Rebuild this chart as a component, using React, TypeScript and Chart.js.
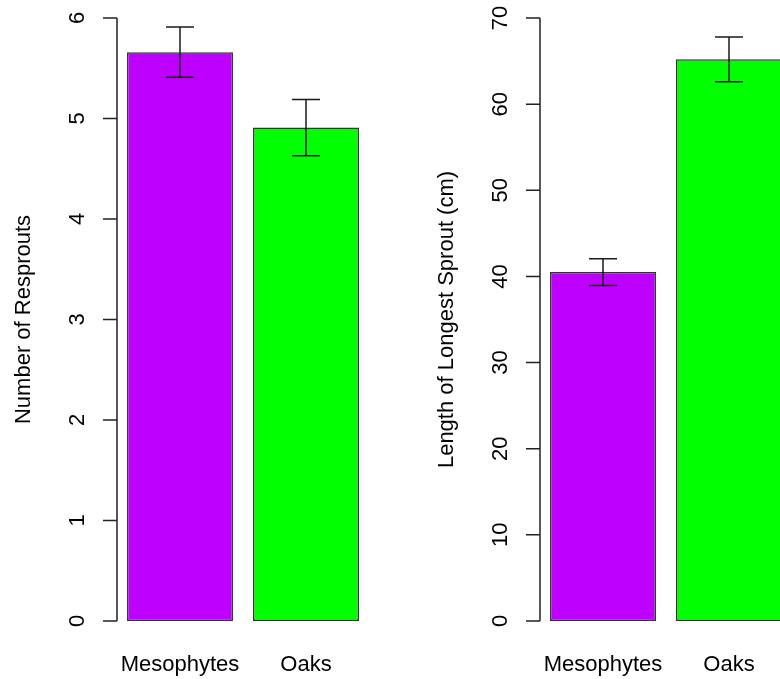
import React, { useEffect, useRef } from "react";
import { Chart, registerables } from "chart.js";

Chart.register(...registerables);

// Groups and fills shared by both panels
const groups = ["Mesophytes", "Oaks"];
const barColors = ["#BD00FF", "#00FF00"];

// Panel 1: number of resprouts (mean ± SE)
const resproutMeans = [5.66, 4.91];
const resproutSE = [0.25, 0.28];
const resproutTicks = [0, 1, 2, 3, 4, 5, 6];

// Panel 2: length of longest sprout in cm (mean ± SE)
const sproutMeans = [40.5, 65.2];
const sproutSE = [1.55, 2.6];
const sproutTicks = [0, 10, 20, 30, 40, 50, 60, 70];

const FONT = '"Liberation Sans", Arial, Helvetica, sans-serif';
const FONT_SIZE = 22;
const PANEL_W = 423;
const PANEL_H = 679;

type PanelProps = {
  left: number;
  title: string;
  means: number[];
  se: number[];
  ticks: number[];
};

function Panel({ left, title, means, se, ticks }: PanelProps) {
  const ref = useRef<HTMLCanvasElement | null>(null);

  useEffect(() => {
    const canvas = ref.current;
    if (!canvas) return;

    // Base-graphics style axis, error bars and labels, placed with the chart's scales
    const basePlot = {
      id: "basePlot",
      afterDatasetsDraw(chart: any) {
        const { ctx, chartArea, scales } = chart;
        const xs = scales.x;
        const ys = scales.y;
        const axisX = chartArea.left;
        ctx.save();

        // error bars
        ctx.strokeStyle = "#1a1a1a";
        ctx.lineWidth = 1.5;
        const meta = chart.getDatasetMeta(0);
        meta.data.forEach((bar: any, i: number) => {
          const cx = bar.x;
          const top = ys.getPixelForValue(means[i] + se[i]);
          const bot = ys.getPixelForValue(means[i] - se[i]);
          ctx.beginPath();
          ctx.moveTo(cx, top);
          ctx.lineTo(cx, bot);
          ctx.moveTo(cx - 14, top);
          ctx.lineTo(cx + 14, top);
          ctx.moveTo(cx - 14, bot);
          ctx.lineTo(cx + 14, bot);
          ctx.stroke();
        });

        // y axis line and outward ticks
        ctx.strokeStyle = "#222";
        ctx.lineWidth = 1.5;
        const yFirst = ys.getPixelForValue(ticks[0]);
        const yLast = ys.getPixelForValue(ticks[ticks.length - 1]);
        ctx.beginPath();
        ctx.moveTo(axisX, yFirst);
        ctx.lineTo(axisX, yLast);
        ticks.forEach((t) => {
          const py = ys.getPixelForValue(t);
          ctx.moveTo(axisX - 14, py);
          ctx.lineTo(axisX, py);
        });
        ctx.stroke();

        // tick labels, parallel to the axis
        ctx.fillStyle = "#000";
        ctx.font = `${FONT_SIZE}px ${FONT}`;
        ticks.forEach((t) => {
          const py = ys.getPixelForValue(t);
          ctx.save();
          ctx.translate(axisX - 33, py);
          ctx.rotate(-Math.PI / 2);
          ctx.textAlign = "center";
          ctx.textBaseline = "alphabetic";
          ctx.fillText(String(t), 0, 0);
          ctx.restore();
        });

        // axis title
        ctx.save();
        ctx.translate(axisX - 87, (chartArea.top + chartArea.bottom) / 2);
        ctx.rotate(-Math.PI / 2);
        ctx.textAlign = "center";
        ctx.textBaseline = "alphabetic";
        ctx.fillText(title, 0, 0);
        ctx.restore();

        // group names under the bars
        ctx.textAlign = "center";
        ctx.textBaseline = "alphabetic";
        groups.forEach((g, i) => {
          ctx.fillText(g, xs.getPixelForValue(i), 671);
        });

        ctx.restore();
      },
    };

    const chart = new Chart(canvas, {
      type: "bar",
      data: {
        labels: groups,
        datasets: [
          {
            data: means,
            backgroundColor: barColors,
            borderColor: "#333",
            borderWidth: 1.5,
            borderSkipped: false,
            barPercentage: 0.841,
            categoryPercentage: 1,
          },
        ],
      },
      options: {
        responsive: false,
        animation: false,
        devicePixelRatio: 1,
        layout: { padding: { left: 117, right: 54, top: 18, bottom: 58 } },
        plugins: {
          legend: { display: false },
          tooltip: { enabled: false },
        },
        scales: {
          x: { display: false },
          y: {
            display: false,
            min: ticks[0],
            max: ticks[ticks.length - 1],
          },
        },
      },
      plugins: [basePlot],
    });

    return () => chart.destroy();
  }, [title, means, se, ticks]);

  return (
    <canvas
      ref={ref}
      width={PANEL_W}
      height={PANEL_H}
      style={{
        position: "absolute",
        left,
        top: 0,
        width: PANEL_W,
        height: PANEL_H,
        display: "block",
      }}
    />
  );
}

export default function App() {
  return (
    <div
      style={{
        position: "fixed",
        left: 0,
        top: 0,
        width: 780,
        height: 679,
        overflow: "hidden",
        background: "#fff",
      }}
    >
      <Panel
        left={0}
        title="Number of Resprouts"
        means={resproutMeans}
        se={resproutSE}
        ticks={resproutTicks}
      />
      <Panel
        left={423}
        title="Length of Longest Sprout (cm)"
        means={sproutMeans}
        se={sproutSE}
        ticks={sproutTicks}
      />
    </div>
  );
}
